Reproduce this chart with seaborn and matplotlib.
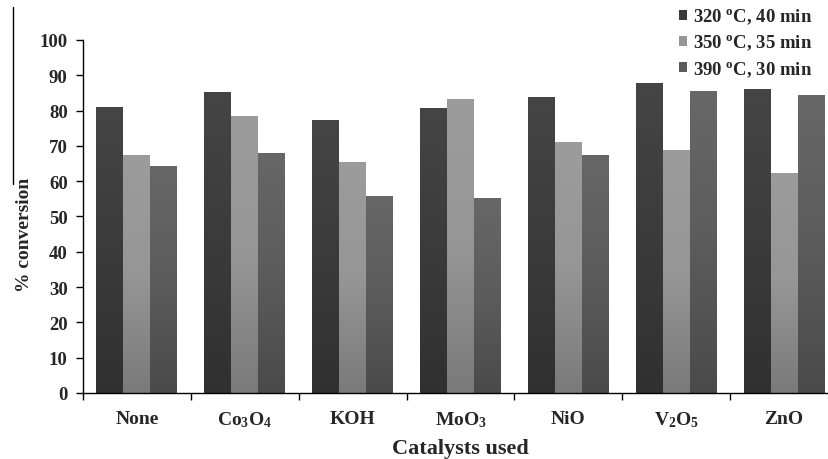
import numpy as np
import pandas as pd
import matplotlib
matplotlib.use("Agg")
import matplotlib.pyplot as plt
import matplotlib.colors as mcolors
from matplotlib.lines import Line2D
from matplotlib.patches import Patch
import seaborn as sns

catalysts = ["None", r"Co$_3$O$_4$", "KOH", r"MoO$_3$", "NiO", r"V$_2$O$_5$", "ZnO"]
conditions = [r"320 $^{\mathregular{o}}$C, 40 min",
              r"350 $^{\mathregular{o}}$C, 35 min",
              r"390 $^{\mathregular{o}}$C, 30 min"]
conv_320 = [81.1, 85.3, 77.3, 80.8, 83.9, 87.8, 86.0]
conv_350 = [67.5, 78.5, 65.5, 83.4, 71.0, 68.8, 62.4]
conv_390 = [64.2, 68.1, 55.9, 55.2, 67.3, 85.5, 84.5]
yticks = [0, 10, 20, 30, 40, 50, 60, 70, 80, 90, 100]

colors = ["#3b3b3b", "#969696", "#5c5c5c"]
top_cols = ["#454545", "#9c9c9c", "#676767"]
bot_cols = ["#303030", "#7a7a7a", "#4a4a4a"]

rows = []
for cond, vals in zip(conditions, [conv_320, conv_350, conv_390]):
    for c, v in zip(catalysts, vals):
        rows.append({"cat": c, "cond": cond, "val": v})
df = pd.DataFrame(rows)

sns.set_theme(style="white")
plt.rcParams["font.family"] = ["Liberation Serif", "DejaVu Serif"]
plt.rcParams["font.weight"] = "bold"
plt.rcParams["mathtext.fontset"] = "custom"
plt.rcParams["mathtext.rm"] = "Liberation Serif:bold"
plt.rcParams["mathtext.it"] = "Liberation Serif:bold"
plt.rcParams["mathtext.bf"] = "Liberation Serif:bold"

fig = plt.figure(figsize=(8.29, 4.6), dpi=100)
ax = fig.add_axes([0.1001, 0.1435, 0.9108, 0.7674])

sns.barplot(data=df, x="cat", y="val", hue="cond", hue_order=conditions,
            order=catalysts, palette=colors, width=0.75, ax=ax,
            linewidth=0, legend=False, errorbar=None, saturation=1)

# vertical gradient on bars
grad = np.linspace(0, 1, 256).reshape(-1, 1)
for i, cont in enumerate(ax.containers):
    cmap = mcolors.LinearSegmentedColormap.from_list("g", [bot_cols[i], colors[i], top_cols[i]])
    for p in cont.patches:
        x0, y0 = p.get_x(), p.get_y()
        w, h = p.get_width(), p.get_height()
        im = ax.imshow(grad, extent=(x0, x0 + w, y0, y0 + h), origin="lower",
                       cmap=cmap, aspect="auto", zorder=p.get_zorder() + 0.1)
        im.set_clip_path(p)

ax.set_xlim(-0.5, len(catalysts) - 0.5)
ax.set_ylim(0, 100)
ax.set_yticks(yticks)
ax.set_yticklabels([str(t) for t in yticks], fontsize=13.5, fontweight="bold")

ax.set_xticks(range(len(catalysts)))
ax.set_xticklabels(catalysts, fontsize=14, fontweight="bold")
ax.set_xticks(np.arange(-0.5, len(catalysts), 1.0), minor=True)
ax.tick_params(axis="x", which="major", length=0, pad=12)
ax.tick_params(axis="x", which="minor", length=5, width=1, color="black", direction="out", bottom=True)
ax.tick_params(axis="y", length=5, width=1, color="black", direction="out", left=True, pad=6)

for s in ["top", "right"]:
    ax.spines[s].set_visible(False)
for s in ["left", "bottom"]:
    ax.spines[s].set_color("black")
    ax.spines[s].set_linewidth(1)

ax.set_xlabel("Catalysts used", fontsize=16, fontweight="bold", labelpad=6)
ax.set_ylabel("% conversion", fontsize=14, fontweight="bold")
ax.yaxis.set_label_coords(-0.066, 0.45)

# stray overline at the left
fig.add_artist(Line2D([13 / 829, 13 / 829], [1 - 8 / 460, 1 - 185 / 460],
                      color="black", linewidth=1, transform=fig.transFigure))

handles = [Patch(facecolor=c, edgecolor="none") for c in colors]
fig.legend(handles, conditions, loc="upper left", bbox_to_anchor=(0.805, 1.008),
           frameon=False, fontsize=13.5, handlelength=0.45, handleheight=0.45,
           handletextpad=0.3, labelspacing=0.36, borderaxespad=0.2)

fig.savefig("out.png", dpi=100)
